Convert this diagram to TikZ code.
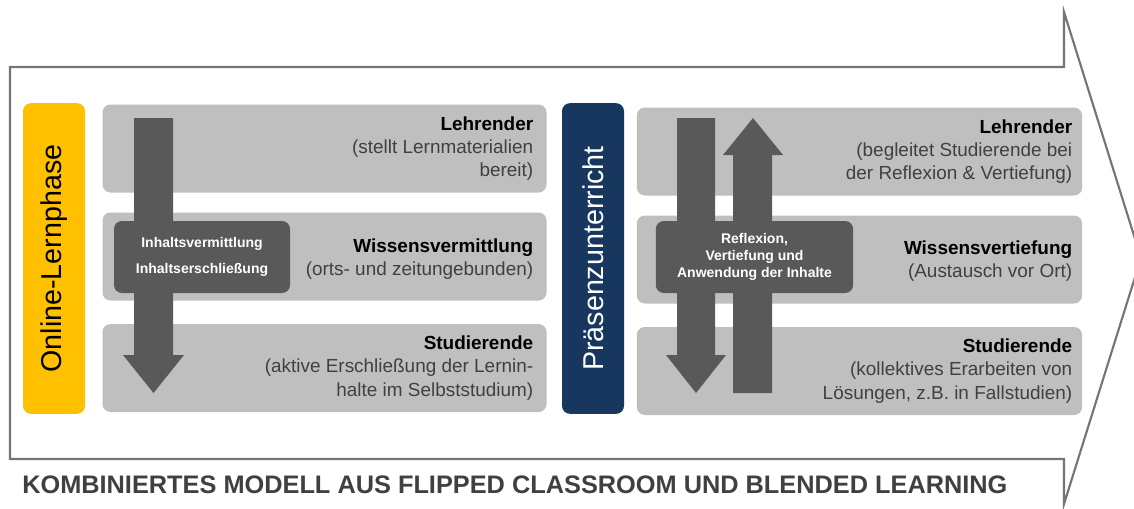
\documentclass[tikz,border=0pt]{standalone}
\usepackage{fontspec}
\setmainfont{Liberation Sans}
\usetikzlibrary{positioning}
\definecolor{phaseyellow}{HTML}{FFC000}
\definecolor{phaseblue}{HTML}{17375E}
\definecolor{panelgray}{HTML}{BFBFBF}
\definecolor{blockgray}{HTML}{595959}
\definecolor{framegray}{HTML}{757575}
\definecolor{textgray}{HTML}{404040}
\begin{document}
\begin{tikzpicture}[x=0.75pt,y=-0.75pt,
        phasebar/.style={rounded corners=6pt,minimum width=233pt,minimum height=46.5pt,inner sep=0pt,
            font=\fontsize{21.5}{25}\selectfont,rotate=90},
        panel/.style={fill=panelgray,rounded corners=6pt,minimum width=333pt,minimum height=66pt,inner sep=0pt},
        paneltext/.style={anchor=east,align=right,text=textgray,inner sep=0pt,
            font=\fontsize{14.2}{17.5}\selectfont},
        block/.style={fill=blockgray,rounded corners=6pt,text=white,align=center,inner sep=0pt,
            minimum height=54pt,font=\bfseries\fontsize{10.5}{12.75}\selectfont},
        blockarrow/.style={fill=blockgray}]
    \useasboundingbox (0,0) rectangle (1134,508);
    %% outer arrow
    \draw[framegray,line width=1.6pt] (10,67) -- (1064,67) -- (1064,12) -- (1141,258)
        -- (1064,504) -- (1064,459) -- (10,459) -- cycle;
    %% phases
    \node[phasebar,fill=phaseyellow,text=black] (online) at (54,258.5) {Online-Lernphase};
    \node[phasebar,fill=phaseblue,text=white] (praesenz) at (593,258.5) {Präsenzunterricht};
    %% left panels
    \node[panel] (lehrA) at (324.5,148.5) {};
    \node[panel] (wissenA) at (324.5,256.5) {};
    \node[panel] (studA) at (324.5,368) {};
    \node[paneltext] (lehrAtext) at ([xshift=-10pt]lehrA.east)
        {\textcolor{black}{\textbf{Lehrender}}\\(stellt Lernmaterialien\\bereit)};
    \node[paneltext] (wissenAtext) at ([xshift=-10pt,yshift=-2pt]wissenA.east)
        {\textcolor{black}{\textbf{Wissensvermittlung}}\\(orts- und zeitungebunden)};
    \node[paneltext] (studAtext) at ([xshift=-10pt]studA.east)
        {\textcolor{black}{\textbf{Studierende}}\\(aktive Erschließung der Lernin-\\halte im Selbststudium)};
    %% right panels
    \node[panel,minimum width=334pt] (lehrB) at (859.5,151.5) {};
    \node[panel,minimum width=334pt] (wissenB) at (859.5,259.5) {};
    \node[panel,minimum width=334pt] (studB) at (859.5,371) {};
    \node[paneltext] (lehrBtext) at ([xshift=-7.5pt]lehrB.east)
        {\textcolor{black}{\textbf{Lehrender}}\\(begleitet Studierende bei\\der Reflexion \& Vertiefung)};
    \node[paneltext] (wissenBtext) at ([xshift=-7.5pt,yshift=-1pt]wissenB.east)
        {\textcolor{black}{\textbf{Wissensvertiefung}}\\(Austausch vor Ort)};
    \node[paneltext] (studBtext) at ([xshift=-7.5pt]studB.east)
        {\textcolor{black}{\textbf{Studierende}}\\(kollektives Erarbeiten von\\Lösungen, z.B. in Fallstudien)};
    %% block arrows
    \fill[blockarrow] (134,118) -- (173,118) -- (173,355) -- (184,355) -- (153.5,393)
        -- (123,355) -- (134,355) -- cycle;
    \fill[blockarrow] (677,118) -- (715,118) -- (715,355) -- (726,355) -- (696,393)
        -- (666,355) -- (677,355) -- cycle;
    \fill[blockarrow] (733,393) -- (772,393) -- (772,155) -- (783,155) -- (753,118)
        -- (723,155) -- (733,155) -- cycle;
    %% content blocks
    \node[block,minimum width=132pt,font=\bfseries\fontsize{10.5}{20}\selectfont] (inhalt) at (202,257)
        {Inhaltsvermittlung\\Inhaltserschließung};
    \node[block,minimum width=148pt] (reflexion) at (754.5,257)
        {Reflexion,\\Vertiefung und\\Anwendung der Inhalte};
    %% title
    \node[anchor=west,inner sep=0pt,text=textgray,font=\bfseries\fontsize{19}{22}\selectfont] (title)
        at (22,485) {KOMBINIERTES MODELL AUS FLIPPED CLASSROOM UND BLENDED LEARNING};
\end{tikzpicture}
\end{document}
